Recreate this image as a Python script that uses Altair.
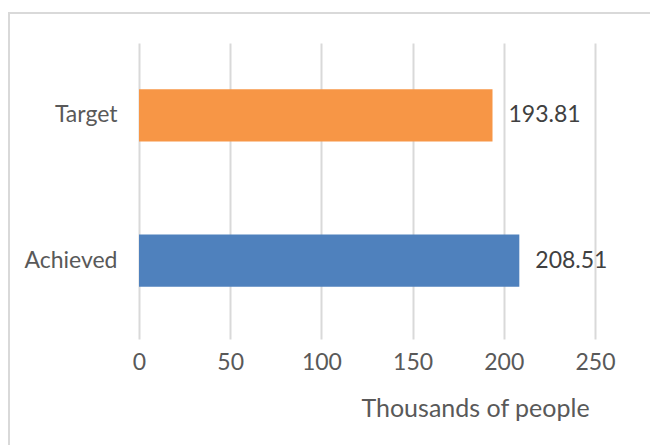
import altair as alt
import pandas as pd

# Population reached, in thousands of people
categories = ["Target", "Achieved"]
values = [193.81, 208.51]
bar_colors = ["#F79646", "#4F81BD"]

df = pd.DataFrame({"category": categories, "value": values})

FONT = "Lato"
TEXT = "#595959"
GRID = "#D9D9D9"
FS = 23

PLOT_W, PLOT_H = 456, 296
PAD = {"left": 139, "top": 43, "right": 55, "bottom": 106}

y_enc = alt.Y(
    "category:N",
    sort=categories,
    scale=alt.Scale(paddingInner=0.64, paddingOuter=0.34, align=0.47),
    axis=alt.Axis(
        title=None, domain=False, ticks=False, grid=False,
        labelFont=FONT, labelFontSize=FS, labelColor=TEXT, labelPadding=22,
    ),
)

x_enc = alt.X(
    "value:Q",
    scale=alt.Scale(domain=[0, 250], nice=False),
    axis=alt.Axis(
        title="Thousands of people", values=[0, 50, 100, 150, 200, 250],
        domain=False, ticks=False, grid=True, gridColor=GRID, gridWidth=2,
        labelFont=FONT, labelFontSize=FS, labelColor=TEXT, labelPadding=12,
        labelFlush=False,
        titleFont=FONT, titleFontSize=25, titleColor=TEXT, titleFontWeight="normal",
        titleX=336, titleY=77, titleAlign="center", titleBaseline="alphabetic",
    ),
)

bars = alt.Chart(df).mark_bar().encode(
    x=x_enc,
    y=y_enc,
    color=alt.Color("category:N", scale=alt.Scale(domain=categories, range=bar_colors), legend=None),
)

labels = alt.Chart(df).mark_text(
    align="left", baseline="middle", dx=16, font=FONT, fontSize=FS, color="#404040",
).encode(
    x="value:Q",
    y=alt.Y("category:N", sort=categories),
    text=alt.Text("value:Q", format=".2f"),
)

# light frame edges (top and left), running to the chart's right and bottom edges
frame_top = alt.Chart(df).mark_rule(stroke=GRID, strokeWidth=2).encode(
    x=alt.value(-131), x2=alt.value(PLOT_W + PAD["right"]), y=alt.value(-30),
)
frame_left = alt.Chart(df).mark_rule(stroke=GRID, strokeWidth=2).encode(
    x=alt.value(-130), y=alt.value(-31), y2=alt.value(PLOT_H + PAD["bottom"]),
)

chart = alt.layer(frame_top, frame_left, bars, labels).properties(
    width=PLOT_W, height=PLOT_H,
    autosize=alt.AutoSizeParams(type="none"),
    padding=PAD,
    background="white",
).configure_view(stroke=None)

chart.save("out.html", embed_options={"renderer": "svg", "actions": False})
